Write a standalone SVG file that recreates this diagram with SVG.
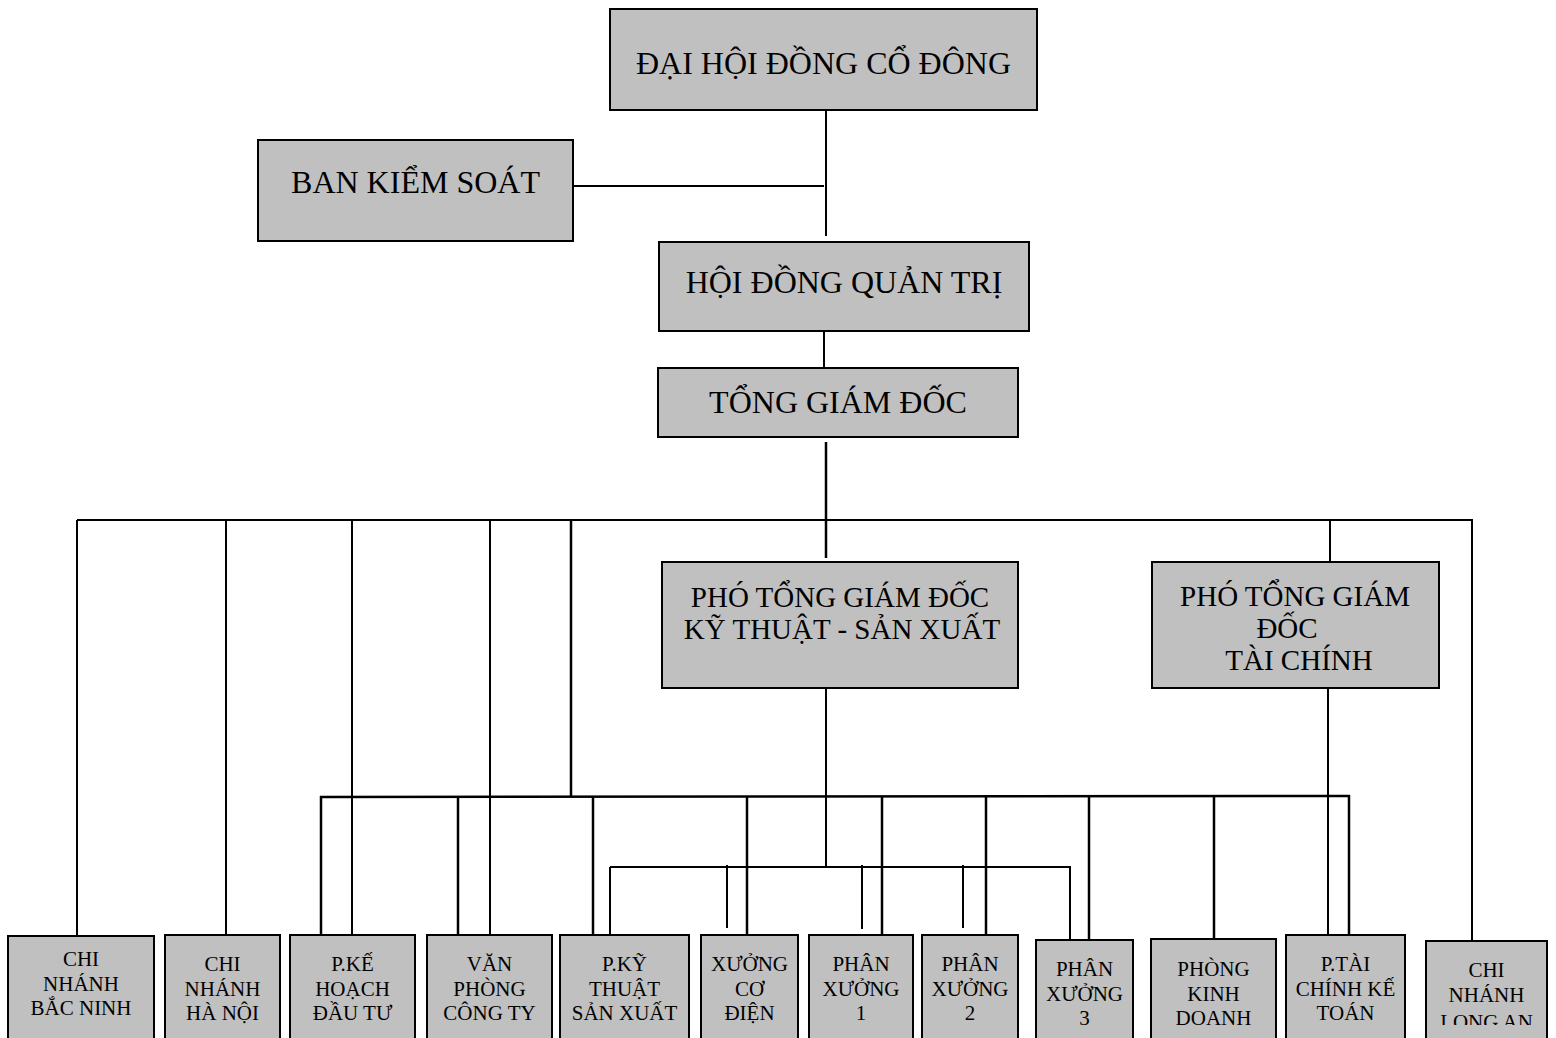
<svg xmlns="http://www.w3.org/2000/svg" width="1556" height="1038" viewBox="0 0 1556 1038">
<style>
.box{fill:#c0c0c0;stroke:#000;stroke-width:2}
.t{font-family:"Liberation Serif","Times New Roman",serif;fill:#000;text-anchor:middle}
.big{font-size:32px}
.mid{font-size:29px}
.sm{font-size:21px}
.c{fill:none;stroke:#000;stroke-width:2}
.k{fill:none;stroke:#000;stroke-width:2.5}
</style>
<defs>
<clipPath id="clipLA"><rect x="1420" y="930" width="136" height="95"/></clipPath>
</defs>
<rect width="1556" height="1038" fill="#fff"/>
<g id="connectors">
<line class="c" x1="826" y1="104" x2="826" y2="236"/>
<line class="c" x1="573" y1="186" x2="824" y2="186"/>
<line class="c" x1="824" y1="327" x2="824" y2="368"/>
<line class="k" x1="826" y1="442" x2="826" y2="558"/>
<line class="c" x1="77" y1="520" x2="1473" y2="520"/>
<line class="c" x1="77" y1="520" x2="77" y2="936"/>
<line class="c" x1="226" y1="520" x2="226" y2="935"/>
<line class="c" x1="352" y1="520" x2="352" y2="935"/>
<line class="c" x1="490" y1="520" x2="490" y2="935"/>
<line class="k" x1="571" y1="520" x2="571" y2="797"/>
<line class="c" x1="1330" y1="520" x2="1330" y2="562"/>
<line class="c" x1="1472" y1="520" x2="1472" y2="941"/>
<line class="k" x1="320" y1="797" x2="1350" y2="796"/>
<line class="k" x1="321" y1="796" x2="321" y2="935"/>
<line class="k" x1="458" y1="796" x2="458" y2="935"/>
<line class="k" x1="593" y1="796" x2="593" y2="935"/>
<line class="k" x1="747" y1="796" x2="747" y2="935"/>
<line class="k" x1="882" y1="796" x2="882" y2="935"/>
<line class="k" x1="986" y1="795" x2="986" y2="935"/>
<line class="k" x1="1089" y1="795" x2="1089" y2="940"/>
<line class="k" x1="1214" y1="795" x2="1214" y2="939"/>
<line class="k" x1="1349" y1="795" x2="1349" y2="935"/>
<line class="c" x1="826" y1="688" x2="826" y2="868"/>
<line class="c" x1="1328" y1="688" x2="1328" y2="935"/>
<line class="c" x1="610" y1="867" x2="1071" y2="867"/>
<line class="c" x1="610" y1="867" x2="610" y2="935"/>
<line class="c" x1="727" y1="865" x2="727" y2="928"/>
<line class="c" x1="862" y1="865" x2="862" y2="929"/>
<line class="c" x1="963" y1="865" x2="963" y2="928"/>
<line class="c" x1="1070" y1="867" x2="1070" y2="940"/>
</g>
<g id="dhdcd"><rect class="box" x="610" y="9" width="427" height="101"/><text class="t big" x="823.5" y="74">ĐẠI HỘI ĐỒNG CỔ ĐÔNG</text></g>
<g id="bks"><rect class="box" x="258" y="140" width="315" height="101"/><text class="t big" x="415.5" y="193">BAN KIỂM SOÁT</text></g>
<g id="hdqt"><rect class="box" x="659" y="242" width="370" height="89"/><text class="t big" x="844" y="293">HỘI ĐỒNG QUẢN TRỊ</text></g>
<g id="tgd"><rect class="box" x="658" y="368" width="360" height="69"/><text class="t big" x="838" y="413">TỔNG GIÁM ĐỐC</text></g>
<g id="ptgd-kt"><rect class="box" x="662" y="562" width="356" height="126"/><text class="t mid" x="840" y="607">PHÓ TỔNG GIÁM ĐỐC</text><text class="t mid" x="842" y="639">KỸ THUẬT - SẢN XUẤT</text></g>
<g id="ptgd-tc"><rect class="box" x="1152" y="562" width="287" height="126"/><text class="t mid" x="1295" y="606">PHÓ TỔNG GIÁM</text><text class="t mid" x="1287" y="638">ĐỐC</text><text class="t mid" x="1299" y="670">TÀI CHÍNH</text></g>
<g id="cn-bac-ninh"><rect class="box" x="8" y="936" width="146" height="120"/><text class="t sm" x="81" y="966">CHI</text><text class="t sm" x="81" y="990.5">NHÁNH</text><text class="t sm" x="81" y="1015">BẮC NINH</text></g>
<g id="cn-ha-noi"><rect class="box" x="165" y="935" width="115" height="120"/><text class="t sm" x="222.5" y="971">CHI</text><text class="t sm" x="222.5" y="995.5">NHÁNH</text><text class="t sm" x="222.5" y="1020">HÀ NỘI</text></g>
<g id="p-ke-hoach"><rect class="box" x="290" y="935" width="125" height="120"/><text class="t sm" x="352.5" y="971">P.KẾ</text><text class="t sm" x="352.5" y="995.5">HOẠCH</text><text class="t sm" x="352.5" y="1020">ĐẦU TƯ</text></g>
<g id="van-phong"><rect class="box" x="427" y="935" width="125" height="120"/><text class="t sm" x="489.5" y="971">VĂN</text><text class="t sm" x="489.5" y="995.5">PHÒNG</text><text class="t sm" x="489.5" y="1020">CÔNG TY</text></g>
<g id="p-ky-thuat"><rect class="box" x="560" y="935" width="129" height="120"/><text class="t sm" x="624.5" y="971">P.KỸ</text><text class="t sm" x="624.5" y="995.5">THUẬT</text><text class="t sm" x="624.5" y="1020">SẢN XUẤT</text></g>
<g id="xuong-co-dien"><rect class="box" x="701" y="935" width="97" height="120"/><text class="t sm" x="749.5" y="971">XƯỞNG</text><text class="t sm" x="749.5" y="995.5">CƠ</text><text class="t sm" x="749.5" y="1020">ĐIỆN</text></g>
<g id="phan-xuong-1"><rect class="box" x="809" y="935" width="104" height="120"/><text class="t sm" x="861" y="971">PHÂN</text><text class="t sm" x="861" y="995.5">XƯỞNG</text><text class="t sm" x="861" y="1020">1</text></g>
<g id="phan-xuong-2"><rect class="box" x="922" y="935" width="96" height="120"/><text class="t sm" x="970" y="971">PHÂN</text><text class="t sm" x="970" y="995.5">XƯỞNG</text><text class="t sm" x="970" y="1020">2</text></g>
<g id="phan-xuong-3"><rect class="box" x="1036" y="940" width="97" height="120"/><text class="t sm" x="1084.5" y="976">PHÂN</text><text class="t sm" x="1084.5" y="1000.5">XƯỞNG</text><text class="t sm" x="1084.5" y="1025">3</text></g>
<g id="phong-kinh-doanh"><rect class="box" x="1151" y="939" width="125" height="120"/><text class="t sm" x="1213.5" y="976">PHÒNG</text><text class="t sm" x="1213.5" y="1000.5">KINH</text><text class="t sm" x="1213.5" y="1025">DOANH</text></g>
<g id="p-tai-chinh"><rect class="box" x="1286" y="935" width="119" height="120"/><text class="t sm" x="1345.5" y="971">P.TÀI</text><text class="t sm" x="1345.5" y="995.5">CHÍNH KẾ</text><text class="t sm" x="1345.5" y="1020">TOÁN</text></g>
<g id="cn-long-an"><rect class="box" x="1426" y="941" width="121" height="120"/><text class="t sm" x="1486.5" y="977">CHI</text><text class="t sm" x="1486.5" y="1001.5">NHÁNH</text><g clip-path="url(#clipLA)"><text class="t sm" x="1486.5" y="1029">LONG AN</text></g></g>
</svg>
